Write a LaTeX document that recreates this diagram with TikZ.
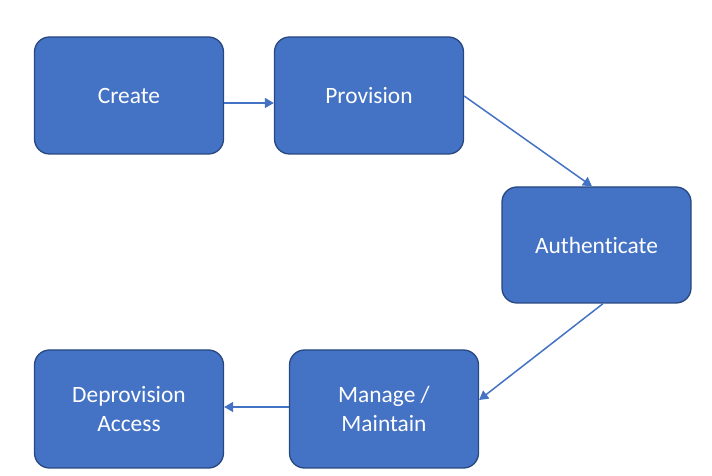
\documentclass[tikz,border=0pt]{standalone}
\usepackage{fontspec}
\setmainfont{Carlito}[Ligatures={NoCommon}]
\usetikzlibrary{arrows.meta}
\definecolor{boxfill}{RGB}{68,114,196}
\definecolor{boxline}{RGB}{40,72,128}
\begin{document}
\begin{tikzpicture}[>={Triangle[width=10bp,length=9bp]},line join=bevel,
    stage/.style={draw=boxline,line width=1.3bp,fill=boxfill,rounded corners=15bp,
      minimum width=189bp,minimum height=117bp,inner sep=0pt,text=white,align=center,
      font=\fontsize{23.5}{30}\selectfont},
    link/.style={->,draw=boxfill,line width=1.5bp}]
    %%
    \useasboundingbox (0bp,0bp) rectangle (712bp,476bp);
    \node (create) at (129.0bp,380.5bp) [stage] {Create};
    \node (provision) at (369.0bp,380.5bp) [stage] {Provision};
    \node (auth) at (596.5bp,231.0bp) [stage,minimum height=116bp] {Authenticate};
    \node (manage) at (384.0bp,67.0bp) [stage,minimum height=118bp] {Manage /\\Maintain};
    \node (deprov) at (129.0bp,67.0bp) [stage,minimum height=118bp] {Deprovision\\Access};
    \draw [link] (create.east |- 0,373bp) -- (provision.west |- 0,373bp);
    \draw [link] (provision.east |- 0,380bp) -- (auth.north -| 592bp,0);
    \draw [link] (auth.south -| 603bp,0) -- (manage.east |- 0,76bp);
    \draw [link] (manage.west |- 0,69bp) -- (deprov.east |- 0,69bp);
    %
\end{tikzpicture}
\end{document}
